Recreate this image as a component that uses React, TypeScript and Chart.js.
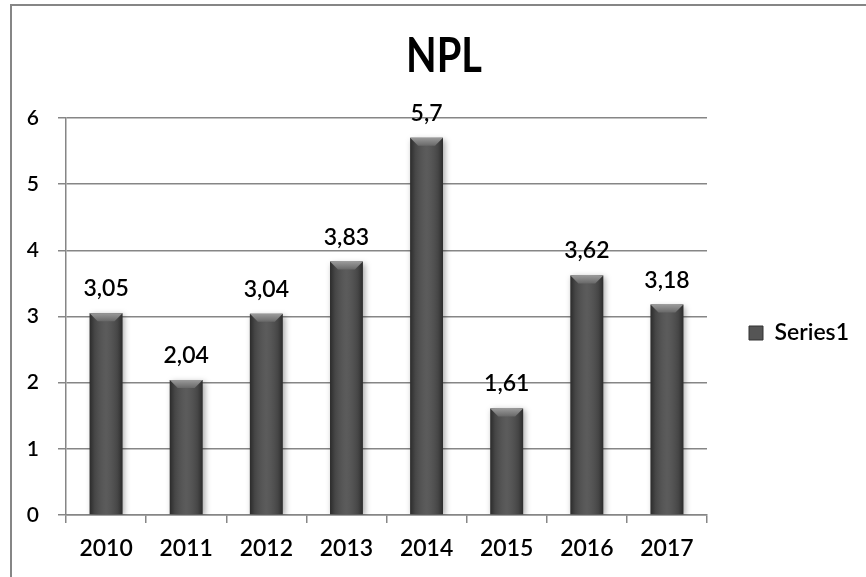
import React, { useEffect, useRef } from "react";
import { Chart, registerables } from "chart.js";

Chart.register(...registerables);

// Chart data
const years = ["2010", "2011", "2012", "2013", "2014", "2015", "2016", "2017"];
const nplValues = [3.05, 2.04, 3.04, 3.83, 5.7, 1.61, 3.62, 3.18];
const seriesName = "Series1";
const chartTitle = "NPL";
const yMin = 0;
const yMax = 6;
const yStep = 1;

const FONT = "Lato, 'Open Sans', sans-serif";
const LINE = "#868686";
const BAR = "#4f4f4f";

const formatValue = (v: number) => String(v).replace(".", ",");

// Outer chart frame (open on the right and bottom) and the chart title
const framePlugin = {
  id: "frame",
  beforeDraw(chart: any) {
    const ctx = chart.ctx;
    ctx.save();
    ctx.fillStyle = "#ffffff";
    ctx.fillRect(0, 0, chart.width, chart.height);
    ctx.strokeStyle = LINE;
    ctx.lineWidth = 2;
    ctx.strokeRect(11, 5, chart.width + 20, chart.height + 20);
    ctx.restore();
    // keep the legend block vertically centred a little above the full height
    if (chart.legend) {
      chart.legend.bottom = chart.chartArea.bottom + 33;
    }
  },
  afterDraw(chart: any) {
    const ctx = chart.ctx;
    ctx.save();
    ctx.font = `bold 48px ${FONT}`;
    ctx.fillStyle = "#000000";
    ctx.textAlign = "center";
    ctx.textBaseline = "alphabetic";
    const w = ctx.measureText(chartTitle).width;
    const sx = Math.min(1, 76 / w);
    ctx.translate(444, 72);
    ctx.scale(sx, 1);
    ctx.fillText(chartTitle, 0, 0);
    ctx.restore();
  },
};

// Soft shadow under bars, then shading, bevelled tops and value labels
const barStylePlugin = {
  id: "barStyle",
  beforeDatasetsDraw(chart: any) {
    const ctx = chart.ctx;
    ctx.save();
    ctx.shadowColor = "rgba(0,0,0,0.35)";
    ctx.shadowBlur = 6;
    ctx.shadowOffsetX = 2;
    ctx.shadowOffsetY = 2;
  },
  afterDatasetsDraw(chart: any) {
    const ctx = chart.ctx;
    ctx.restore();
    const meta = chart.getDatasetMeta(0);
    const data = chart.data.datasets[0].data as number[];
    meta.data.forEach((el: any, i: number) => {
      const { x, y, base, width } = el.getProps(["x", "y", "base", "width"], true);
      const left = x - width / 2;
      const right = x + width / 2;
      ctx.save();
      const g = ctx.createLinearGradient(left, 0, right, 0);
      g.addColorStop(0, "rgba(0,0,0,0.45)");
      g.addColorStop(0.15, "rgba(0,0,0,0.12)");
      g.addColorStop(0.5, "rgba(255,255,255,0.07)");
      g.addColorStop(0.85, "rgba(0,0,0,0.12)");
      g.addColorStop(1, "rgba(0,0,0,0.45)");
      ctx.fillStyle = g;
      ctx.fillRect(left, y, width, base - y);

      const b = Math.min(8, (base - y) / 2);
      const tg = ctx.createLinearGradient(0, y, 0, y + b);
      tg.addColorStop(0, "#9a9a9a");
      tg.addColorStop(1, "#686868");
      ctx.fillStyle = tg;
      ctx.beginPath();
      ctx.moveTo(left, y);
      ctx.lineTo(right, y);
      ctx.lineTo(right - b, y + b);
      ctx.lineTo(left + b, y + b);
      ctx.closePath();
      ctx.fill();

      ctx.fillStyle = "#000000";
      ctx.font = `600 23px ${FONT}`;
      ctx.textAlign = "center";
      ctx.textBaseline = "alphabetic";
      ctx.fillText(formatValue(data[i]), x, y - 17);
      ctx.restore();
    });
  },
};

export default function App() {
  const canvasRef = useRef<HTMLCanvasElement | null>(null);

  useEffect(() => {
    const canvas = canvasRef.current;
    if (!canvas) return;
    const chart = new Chart(canvas, {
      type: "bar",
      data: {
        labels: years,
        datasets: [
          {
            label: seriesName,
            data: nplValues,
            backgroundColor: BAR,
            borderWidth: 0,
            barPercentage: 0.41,
            categoryPercentage: 1,
          },
        ],
      },
      options: {
        responsive: false,
        animation: false,
        devicePixelRatio: 1,
        layout: { padding: { left: 0, top: 118, bottom: 0, right: 7 } },
        plugins: {
          title: { display: false },
          legend: {
            display: true,
            position: "right",
            align: "center",
            labels: {
              color: "#000000",
              font: { family: FONT, size: 23, weight: "600" },
              boxWidth: 14,
              boxHeight: 14,
              padding: 42,
              generateLabels: () => [
                {
                  text: seriesName,
                  fillStyle: "#555555",
                  strokeStyle: "#333333",
                  fontColor: "#000000",
                  lineWidth: 1,
                  datasetIndex: 0,
                } as any,
              ],
            },
          },
          tooltip: { enabled: false },
        },
        scales: {
          x: {
            afterFit: (scale: any) => {
              scale.height = 62;
            },
            grid: {
              display: true,
              drawOnChartArea: false,
              drawTicks: true,
              tickLength: 8,
              color: LINE,
              lineWidth: 1.5,
            },
            border: { display: true, color: LINE, width: 1.5 },
            ticks: {
              color: "#000000",
              font: { family: FONT, size: 23, weight: "600" },
              padding: 12,
            },
          },
          y: {
            min: yMin,
            max: yMax,
            afterFit: (scale: any) => {
              scale.width = 66;
            },
            grid: {
              color: LINE,
              lineWidth: 1.5,
              drawTicks: true,
              tickLength: 8,
            },
            border: { display: true, color: LINE, width: 1.5 },
            ticks: {
              stepSize: yStep,
              color: "#000000",
              font: { family: FONT, size: 21, weight: "600" },
              padding: 19,
            },
          },
        },
      },
      plugins: [framePlugin, barStylePlugin],
    });
    return () => chart.destroy();
  }, []);

  return (
    <div style={{ position: "absolute", left: 0, top: 0, width: 866, height: 577 }}>
      <canvas ref={canvasRef} width={866} height={577} />
    </div>
  );
}
